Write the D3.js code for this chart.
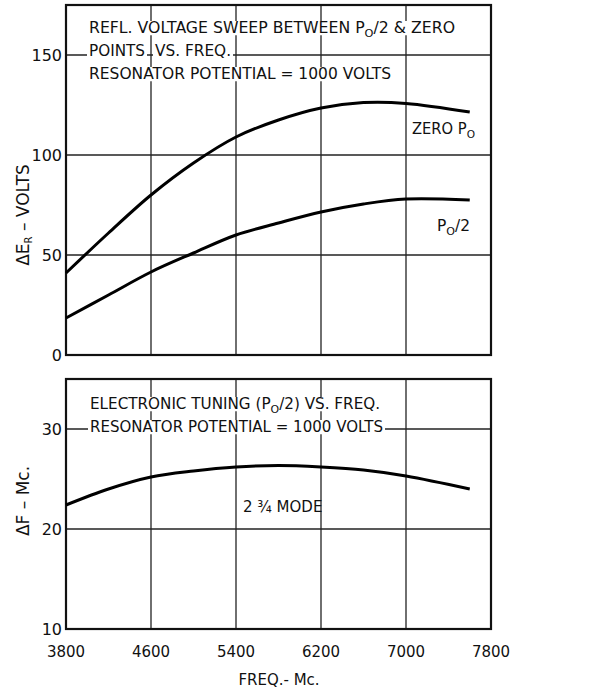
<!DOCTYPE html>
<html>
<head>
<meta charset="utf-8">
<script src="https://cdn.jsdelivr.net/npm/d3@7"></script>
<style>
  body { margin: 0; background: #fff; }
  svg text { font-family: "DejaVu Sans", sans-serif; fill: #111; }
</style>
</head>
<body>
<svg id="chart" width="613" height="692"></svg>
<script>
// frequency grid (Mc)
const freqTicks = [3800, 4600, 5400, 6200, 7000, 7800];

// top panel: reflector voltage sweep (volts)
const sweepFreq = [3800, 4200, 4600, 5000, 5400, 5800, 6200, 6600, 7000, 7600];
const zeroPo    = [41, 61, 80, 96, 109, 117.5, 123.5, 126.2, 125.8, 121.5];
const halfPo    = [18.5, 30, 41.5, 51, 60, 66, 71.5, 75.5, 78, 77.5];
const topTicks  = [0, 50, 100, 150];

// bottom panel: electronic tuning (Mc)
const tuneFreq = [3800, 4200, 4600, 5000, 5400, 5800, 6200, 6600, 7000, 7600];
const tuning   = [22.4, 24.0, 25.2, 25.8, 26.2, 26.35, 26.2, 25.9, 25.3, 24.0];
const botTicks = [10, 20, 30];

const svg = d3.select('#chart');

const x = d3.scaleLinear().domain([3800, 7800]).range([66, 491]);
const yTop = d3.scaleLinear().domain([0, 175]).range([355, 5]);
const yBot = d3.scaleLinear().domain([10, 35]).range([629, 379]);

function panel(y, yTicks, y0, y1) {
  const g = svg.append('g');
  g.selectAll('.vg').data(freqTicks.slice(1, -1)).enter().append('line')
    .attr('x1', d => x(d)).attr('x2', d => x(d))
    .attr('y1', y(y0)).attr('y2', y(y1))
    .attr('stroke', '#222').attr('stroke-width', 1.3);
  g.selectAll('.hg').data(yTicks.filter(d => d > y0)).enter().append('line')
    .attr('x1', x(3800)).attr('x2', x(7800))
    .attr('y1', d => y(d)).attr('y2', d => y(d))
    .attr('stroke', '#222').attr('stroke-width', 1.3);
  g.append('rect')
    .attr('x', x(3800)).attr('y', y(y1))
    .attr('width', x(7800) - x(3800)).attr('height', y(y0) - y(y1))
    .attr('fill', 'none').attr('stroke', '#111').attr('stroke-width', 2.2);
  g.selectAll('.yl').data(yTicks).enter().append('text')
    .attr('x', x(3800) - 4).attr('y', d => y(d) + 6)
    .attr('text-anchor', 'end').attr('font-size', 16)
    .text(d => d);
  return g;
}

const topPanel = panel(yTop, topTicks, 0, 175);
const botPanel = panel(yBot, botTicks, 10, 35);

// x tick labels
svg.selectAll('.xl').data(freqTicks).enter().append('text')
  .attr('x', d => x(d)).attr('y', 657)
  .attr('text-anchor', 'middle').attr('font-size', 15)
  .text(d => d);

svg.append('text').attr('x', 279).attr('y', 685)
  .attr('text-anchor', 'middle').attr('font-size', 15)
  .text('FREQ.- Mc.');

// y axis titles
const t1 = svg.append('text')
  .attr('transform', 'translate(29,215) rotate(-90)')
  .attr('text-anchor', 'middle').attr('font-size', 17);
t1.append('tspan').text('ΔE');
t1.append('tspan').attr('font-size', 10).attr('dy', 3).text('R');
t1.append('tspan').attr('dy', -3).text(' – VOLTS');

svg.append('text')
  .attr('transform', 'translate(29,501) rotate(-90)')
  .attr('text-anchor', 'middle').attr('font-size', 17)
  .text('ΔF – Mc.');

// curves
const line = (xs, ys, y) => d3.line()
  .x((d, i) => x(xs[i])).y(d => y(d))
  .curve(d3.curveCatmullRom.alpha(0.5))(ys);

topPanel.append('path').attr('d', line(sweepFreq, zeroPo, yTop))
  .attr('fill', 'none').attr('stroke', '#000').attr('stroke-width', 3);
topPanel.append('path').attr('d', line(sweepFreq, halfPo, yTop))
  .attr('fill', 'none').attr('stroke', '#000').attr('stroke-width', 3);
botPanel.append('path').attr('d', line(tuneFreq, tuning, yBot))
  .attr('fill', 'none').attr('stroke', '#000').attr('stroke-width', 3);

// annotations: white strip behind each line hides the grid
function label(parent, xPos, yPos, parts, size, len) {
  const bg = parent.append('rect').attr('fill', '#fff');
  const t = parent.append('text')
    .attr('x', xPos).attr('y', yPos).attr('font-size', size);
  let shift = 0;
  parts.forEach(p => {
    if (typeof p === 'string') {
      t.append('tspan').attr('dy', -shift).text(p);
      shift = 0;
    } else {
      t.append('tspan').attr('font-size', size * 0.72).attr('dy', 4).text(p.sub);
      shift = 4;
    }
  });
  if (len) t.attr('textLength', len).attr('lengthAdjust', 'spacingAndGlyphs');
  const b = t.node().getBBox();
  bg.attr('x', b.x - 2).attr('y', yPos - size * 0.8)
    .attr('width', b.width + 4).attr('height', size * 0.95);
  return t;
}

label(topPanel, 89, 33, ['REFL. VOLTAGE SWEEP BETWEEN P', {sub: 'O'}, '/2 & ZERO'], 15, 366);
label(topPanel, 89, 56, ['POINTS'], 15, 56);
label(topPanel, 155, 56, ['VS. FREQ.'], 15, 76);
label(topPanel, 89, 79, ['RESONATOR  POTENTIAL = 1000 VOLTS'], 15, 302);
label(topPanel, 412, 134, ['ZERO  P', {sub: 'O'}], 15, 63);
label(topPanel, 437, 231, ['P', {sub: 'O'}, '/2'], 15, 33);

label(botPanel, 90, 409, ['ELECTRONIC  TUNING (P', {sub: 'O'}, '/2) VS.  FREQ.'], 15, 290);
label(botPanel, 90, 432, ['RESONATOR  POTENTIAL = 1000 VOLTS'], 15, 293);

botPanel.append('text').attr('x', 243).attr('y', 512).attr('font-size', 15)
  .text('2 ¾ MODE');
</script>
</body>
</html>
